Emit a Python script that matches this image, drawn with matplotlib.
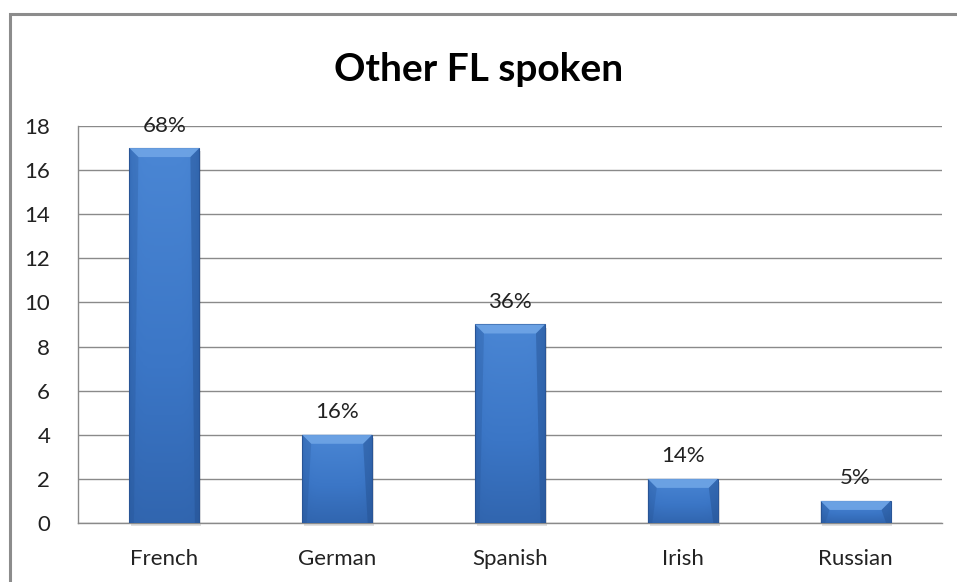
import matplotlib.pyplot as plt
import numpy as np
from matplotlib.patches import Rectangle, Polygon
from matplotlib.colors import LinearSegmentedColormap

languages = ['French', 'German', 'Spanish', 'Irish', 'Russian']
counts = [17, 4, 9, 2, 1]
pct_labels = ['68%', '16%', '36%', '14%', '5%']

plt.rcParams['font.family'] = ['Lato', 'DejaVu Sans']

fig = plt.figure(figsize=(9.57, 5.82), dpi=100)
ax = fig.add_axes([0.0815, 0.1014, 0.9028, 0.6821])

# frame around the chart (cut off at right and bottom like the screenshot)
fig.patches.append(Rectangle((10 / 957, -0.1), 1.2, 1 - 14 / 582 + 0.1,
                             transform=fig.transFigure, fill=False,
                             edgecolor='#8c8c8c', linewidth=2.2, zorder=0))

ax.set_xlim(-0.5, len(languages) - 0.5)
ax.set_ylim(0, 18)
ax.set_yticks(range(0, 19, 2))
ax.set_xticks(range(len(languages)))
ax.set_xticklabels(languages)
ax.tick_params(length=0, labelsize=16, colors='#222222')
ax.tick_params(axis='x', pad=19)
ax.tick_params(axis='y', pad=20)
ax.yaxis.grid(True, color='#8a8a8a', linewidth=1.0)
ax.set_axisbelow(True)
for s in ['top', 'right']:
    ax.spines[s].set_visible(False)
for s in ['left', 'bottom']:
    ax.spines[s].set_color('#8a8a8a')
    ax.spines[s].set_linewidth(1.0)

# bevelled gradient bars
width = 0.405
grad = LinearSegmentedColormap.from_list('b', ['#2d5fa6', '#3b76c6', '#4a86d4'])
hgrad = np.linspace(0, 1, 50)
img = np.outer(np.linspace(0.15, 1, 100), np.ones(50))
edge = 1 - 0.35 * (np.abs(hgrad - 0.5) * 2) ** 6
img = img * edge
px_x = 864 / 5      # pixels per x unit
px_y = 397 / 18     # pixels per y unit
for i, v in enumerate(counts):
    x0, x1 = i - width / 2, i + width / 2
    # shadow
    ax.add_patch(Rectangle((x0 + 0.01, -0.15), width, v, facecolor='#000000',
                           alpha=0.12, edgecolor='none', zorder=2, clip_on=False))
    im = ax.imshow(img, cmap=grad, vmin=0, vmax=1, origin='lower',
                   extent=[x0, x1, 0, v], aspect='auto', zorder=3)
    bar = Rectangle((x0, 0), width, v, facecolor='none', edgecolor='#2a5698',
                    linewidth=0.8, zorder=4)
    ax.add_patch(bar)
    im.set_clip_path(bar)
    # bevels
    bx = 9 / px_x
    by = 9 / px_y
    ax.add_patch(Polygon([(x0, v), (x1, v), (x1 - bx, v - by), (x0 + bx, v - by)],
                         closed=True, facecolor='#6fa5e6', edgecolor='none',
                         alpha=0.9, zorder=4))
    ax.add_patch(Polygon([(x1, v), (x1, 0), (x1 - bx * 0.5, 0), (x1 - bx, v - by)],
                         closed=True, facecolor='#24508f', edgecolor='none',
                         alpha=0.45, zorder=4))
    ax.add_patch(Polygon([(x0, v), (x0, 0), (x0 + bx * 0.5, 0), (x0 + bx, v - by)],
                         closed=True, facecolor='#24508f', edgecolor='none',
                         alpha=0.25, zorder=4))
    ax.annotate(pct_labels[i], (i, v), xytext=(0, 9), textcoords='offset points',
                ha='center', va='bottom', fontsize=16, color='#222222', zorder=5)

fig.text(0.5, 0.88, 'Other FL spoken', ha='center', va='center',
         fontsize=28, fontweight='bold', color='#000000')

fig.savefig('out.png', dpi=100)
